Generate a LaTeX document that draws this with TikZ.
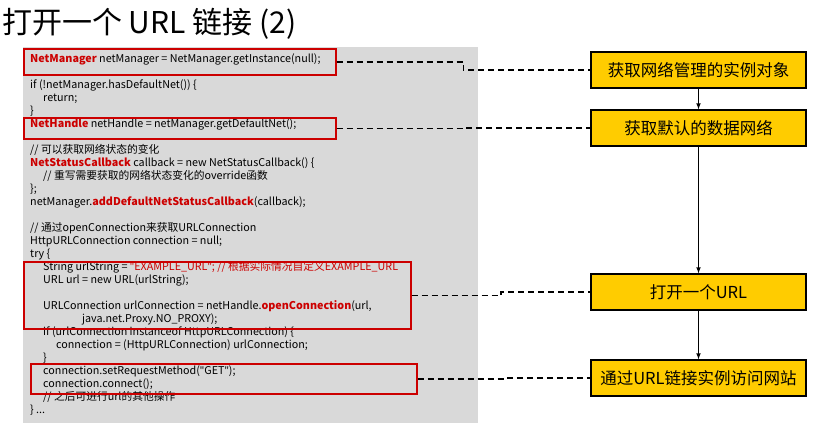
\documentclass[tikz,border=0pt]{standalone}
\usepackage{fontspec}
\setmainfont{Noto Sans CJK SC}
\newfontfamily\qfont{Noto Sans}
\usetikzlibrary{calc}
\definecolor{hwred}{RGB}{204,0,0}
\definecolor{hwyellow}{RGB}{255,204,0}
\definecolor{panelgray}{RGB}{217,217,217}
\newcommand{\kw}[1]{\textcolor{hwred}{\bfseries #1}}
\newcommand{\rd}[1]{\textcolor{hwred}{#1}}
\newcommand{\ind}{\hspace*{13pt}}
\newcommand{\qt}{{\qfont"}}
\begin{document}
\begin{tikzpicture}[x=1pt,y=-1pt,
  hlbox/.style={draw=hwred,line width=1.6pt,anchor=north west,inner sep=0},
  stepbox/.style={draw,line width=1.3pt,fill=hwyellow,minimum width=215pt,minimum height=36pt,font=\fontsize{16.5}{17}\selectfont},
  link/.style={line width=1.6pt,dash pattern=on 6pt off 4pt}]
\useasboundingbox(0,0)rectangle(820,429);
\node[anchor=west,inner sep=0,font=\fontsize{30}{32}\selectfont](title)at(2,24){打开一个 URL 链接 (2)};
% code panel
\fill[panelgray](23,47)rectangle(478,423);
\node[anchor=north west,inner sep=0,align=left,font=\fontsize{10.75}{13}\selectfont](code)at(30,53){%
\kw{NetManager} netManager = NetManager.getInstance(null);\\[13pt]
if (!netManager.hasDefaultNet()) \{\\
\ind return;\\
\}\\
\kw{NetHandle} netHandle = netManager.getDefaultNet();\\[13pt]
// 可以获取网络状态的变化\\
\kw{NetStatusCallback} callback = new NetStatusCallback() \{\\
\ind // 重写需要获取的网络状态变化的override函数\\
\};\\
netManager.\kw{addDefaultNetStatusCallback}(callback);\\[13pt]
// 通过openConnection来获取URLConnection\\
HttpURLConnection connection = null;\\
try \{\\
\ind String urlString = \rd{\qt EXAMPLE\_URL\qt; // 根据实际情况自定义EXAMPLE\_URL}\\
\ind URL url = new URL(urlString);\\[13pt]
\ind URLConnection urlConnection = netHandle.\kw{openConnection}(url,\\
\ind\ind\ind\ind java.net.Proxy.NO\_PROXY);\\
\ind if (urlConnection instanceof HttpURLConnection) \{\\
\ind\ind connection = (HttpURLConnection) urlConnection;\\
\ind\}\\
\ind connection.setRequestMethod(\qt GET\qt);\\
\ind connection.connect();\\
\ind // 之后可进行url的其他操作\\
\} ...};
% highlighted lines
\node[hlbox,minimum width=312,minimum height=26](rb1)at(23,48){};
\node[hlbox,minimum width=312,minimum height=21](rb2)at(23,117){};
\node[hlbox,minimum width=387,minimum height=67](rb3)at(23,261){};
\node[hlbox,minimum width=386,minimum height=30](rb4)at(30,363){};
% steps
\node[stepbox](get)at(698.5,70){获取网络管理的实例对象};
\node[stepbox](def)at(698.5,128){获取默认的数据网络};
\node[stepbox](open)at(698.5,292){打开一个URL};
\node[stepbox](visit)at(698.5,378){通过URL链接实例访问网站};
\draw[-latex,line width=1.1pt](get)--(def);
\draw[-latex,line width=1.1pt](def)--(open);
\draw[-latex,line width=1.1pt](open)--(visit);
\foreach \a/\b in {rb1/get,rb2/def,rb3/open,rb4/visit}
  \draw[link](\a.east)-|($(\a.east)!.5!(\b.west)$)|-(\b.west);
\end{tikzpicture}
\end{document}
